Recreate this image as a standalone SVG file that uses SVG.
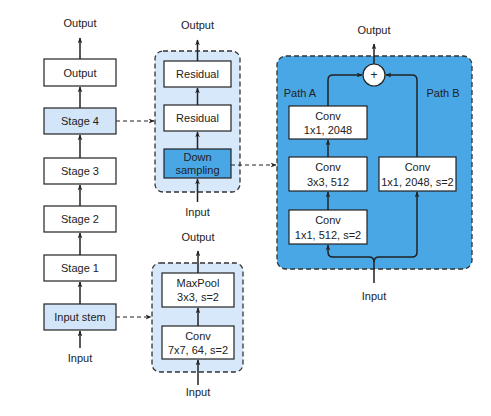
<svg xmlns="http://www.w3.org/2000/svg" width="491" height="416" viewBox="0 0 491 416">
<defs>
<marker id="ah" viewBox="0 0 10 10" refX="9" refY="5" markerWidth="6" markerHeight="6" orient="auto-start-reverse" markerUnits="userSpaceOnUse">
<path d="M0,1 L10,5 L0,9 L3,5 z" fill="#222"/>
</marker>
</defs>
<style>
text{font-family:"Liberation Sans",Arial,sans-serif;font-size:11px;fill:#222;text-anchor:middle}
.box{fill:#fff;stroke:#222;stroke-width:1.2}
.lb{fill:#d3e5f9;stroke:#222;stroke-width:1.2}
.db{fill:#4aa7e6;stroke:#222;stroke-width:1.2}
.panel{fill:#d8e8fb;stroke:#333;stroke-width:1.3;stroke-dasharray:5,3}
.dpanel{fill:#4aa7e6;stroke:#333;stroke-width:1.3;stroke-dasharray:5,3}
.ln{fill:none;stroke:#222;stroke-width:1.5}
.dl{fill:none;stroke:#222;stroke-width:1.2;stroke-dasharray:4,3}
</style>
<rect width="491" height="416" fill="#fff"/>

<g id="panel-stage4"><rect class="panel" x="155" y="51" width="85" height="141" rx="8"/></g>
<g id="panel-stem"><rect class="panel" x="152" y="263" width="91" height="109" rx="8"/></g>
<g id="panel-ds"><rect class="dpanel" x="277" y="56" width="195" height="213" rx="9"/></g>

<g id="left-output"><rect class="box" x="44" y="59" width="72" height="27"/><text x="80" y="76.5">Output</text></g>
<g id="stage4"><rect class="lb" x="44" y="108" width="72" height="26"/><text x="80" y="125">Stage 4</text></g>
<g id="stage3"><rect class="box" x="44" y="158" width="72" height="26"/><text x="80" y="175">Stage 3</text></g>
<g id="stage2"><rect class="box" x="44" y="206" width="72" height="26"/><text x="80" y="223">Stage 2</text></g>
<g id="stage1"><rect class="box" x="44" y="255" width="72" height="26"/><text x="80" y="272">Stage 1</text></g>
<g id="stem"><rect class="lb" x="44" y="304" width="72" height="26"/><text x="80" y="321">Input stem</text></g>
<text x="80" y="27">Output</text>
<text x="80" y="362">Input</text>

<g id="res1"><rect class="box" x="164" y="61" width="67" height="26"/><text x="197.5" y="78">Residual</text></g>
<g id="res2"><rect class="box" x="164" y="105" width="67" height="26"/><text x="197.5" y="122">Residual</text></g>
<g id="down"><rect class="db" x="164" y="149" width="67" height="29"/><text x="197.5" y="161">Down</text><text x="197.5" y="174">sampling</text></g>
<text x="197.5" y="29">Output</text>
<text x="197.5" y="216">Input</text>

<g id="maxpool"><rect class="box" x="162" y="273" width="72" height="34"/><text x="198" y="287">MaxPool</text><text x="198" y="301">3x3, s=2</text></g>
<g id="conv7"><rect class="box" x="162" y="326" width="72" height="33"/><text x="198" y="340">Conv</text><text x="198" y="354">7x7, 64, s=2</text></g>
<text x="198" y="241">Output</text>
<text x="198" y="396">Input</text>

<g id="plus"><circle cx="374" cy="75" r="11" fill="#fff" stroke="#222" stroke-width="1.2"/><text x="374" y="79" style="font-size:12px">+</text></g>
<g id="convA3"><rect class="box" x="289" y="106" width="78" height="33"/><text x="328" y="120">Conv</text><text x="328" y="134">1x1, 2048</text></g>
<g id="convA2"><rect class="box" x="289" y="157" width="78" height="34"/><text x="328" y="171">Conv</text><text x="328" y="186">3x3, 512</text></g>
<g id="convA1"><rect class="box" x="289" y="210" width="78" height="34"/><text x="328" y="224">Conv</text><text x="328" y="239">1x1, 512, s=2</text></g>
<g id="convB"><rect class="box" x="379" y="157" width="77" height="34"/><text x="417.5" y="171">Conv</text><text x="417.5" y="186">1x1, 2048, s=2</text></g>
<text x="300" y="97">Path A</text>
<text x="443" y="97">Path B</text>
<text x="374" y="34">Output</text>
<text x="374" y="300">Input</text>

<g id="connectors">
<line class="ln" x1="80" y1="59" x2="80" y2="38" marker-end="url(#ah)"/>
<line class="ln" x1="80" y1="108" x2="80" y2="87" marker-end="url(#ah)"/>
<line class="ln" x1="80" y1="158" x2="80" y2="135" marker-end="url(#ah)"/>
<line class="ln" x1="80" y1="206" x2="80" y2="185" marker-end="url(#ah)"/>
<line class="ln" x1="80" y1="255" x2="80" y2="233" marker-end="url(#ah)"/>
<line class="ln" x1="80" y1="304" x2="80" y2="282" marker-end="url(#ah)"/>
<line class="ln" x1="80" y1="348" x2="80" y2="331" marker-end="url(#ah)"/>
<line class="dl" x1="116" y1="121" x2="154" y2="121" marker-end="url(#ah)"/>
<line class="dl" x1="116" y1="317" x2="151" y2="317" marker-end="url(#ah)"/>

<line class="ln" x1="197.5" y1="61" x2="197.5" y2="40" marker-end="url(#ah)"/>
<line class="ln" x1="197.5" y1="105" x2="197.5" y2="88" marker-end="url(#ah)"/>
<line class="ln" x1="197.5" y1="149" x2="197.5" y2="132" marker-end="url(#ah)"/>
<line class="ln" x1="197.5" y1="202" x2="197.5" y2="179" marker-end="url(#ah)"/>
<line class="dl" x1="231" y1="165" x2="276" y2="165" marker-end="url(#ah)"/>

<line class="ln" x1="198" y1="273" x2="198" y2="251" marker-end="url(#ah)"/>
<line class="ln" x1="198" y1="326" x2="198" y2="308" marker-end="url(#ah)"/>
<line class="ln" x1="198" y1="385" x2="198" y2="360" marker-end="url(#ah)"/>

<line class="ln" x1="374" y1="64" x2="374" y2="44" marker-end="url(#ah)"/>
<path class="ln" d="M328,106 V80 Q328,75 333,75 H362" marker-end="url(#ah)"/>
<path class="ln" d="M417,157 V80 Q417,75 412,75 H386" marker-end="url(#ah)"/>
<line class="ln" x1="328" y1="157" x2="328" y2="140" marker-end="url(#ah)"/>
<line class="ln" x1="328" y1="210" x2="328" y2="192" marker-end="url(#ah)"/>
<path class="ln" d="M374,283 V262 Q374,257 369,257 H333 Q328,257 328,252 V245" marker-end="url(#ah)"/>
<path class="ln" d="M374,262 Q374,257 379,257 H412 Q417,257 417,252 V192" marker-end="url(#ah)"/>
</g>
</svg>
